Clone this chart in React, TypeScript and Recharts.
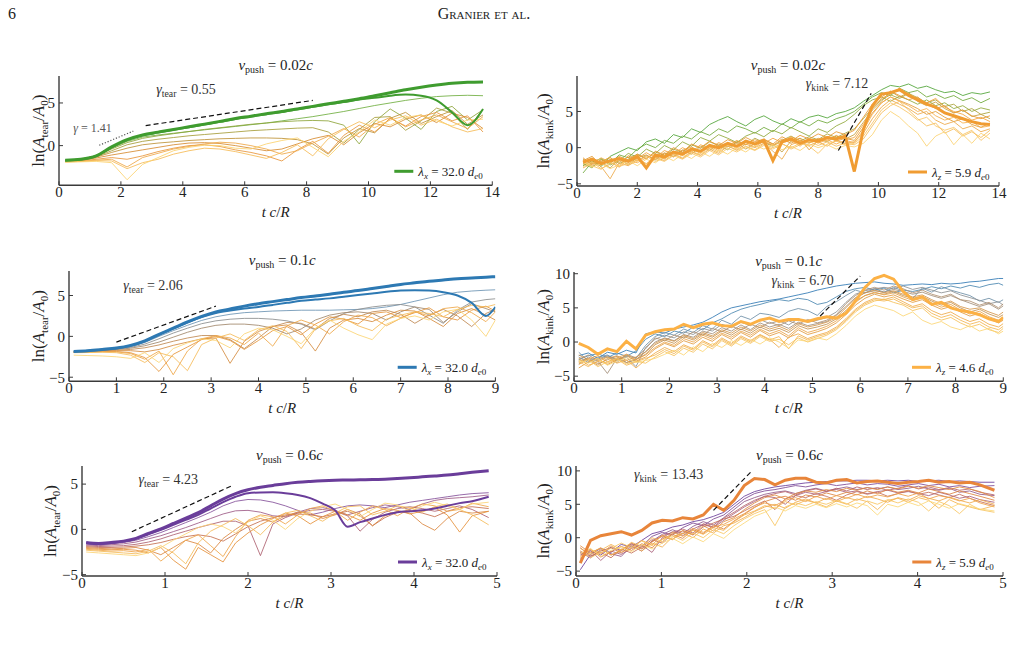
import { LineChart, Line, XAxis, YAxis, ReferenceLine } from "recharts";

const FONT = '"Liberation Serif", "DejaVu Serif", serif';
const INK = "#222";
const FRAME = "#3a3a3a";
const ML = 60;
const MR = 10;
const MT = 28;
const MB = 45;

// ---- v_push = 0.02c, tearing ----
const p1Time = [0.2, 0.7, 1.2, 1.7, 2.2, 2.7, 3.2, 3.7, 4.2, 4.7, 5.2, 5.7, 6.2, 6.7, 7.2, 7.7, 8.2, 8.7, 9.2, 9.7, 10.2, 10.7, 11.2, 11.7, 12.2, 12.7, 13.2, 13.7];
const p1Thick = [
  [-1.72, -1.6, -1.2, -0.15, 0.7, 1.25, 1.58, 1.9, 2.2, 2.52, 2.84, 3.17, 3.45, 3.74, 4.0, 4.3, 4.6, 4.9, 5.2, 5.5, 5.85, 6.2, 6.55, 6.85, 7.1, 7.3, 7.42, 7.46],
  [-1.74, -1.62, -1.22, -0.2, 0.65, 1.2, 1.53, 1.85, 2.15, 2.47, 2.79, 3.12, 3.4, 3.69, 3.95, 4.25, 4.55, 4.85, 5.1, 5.4, 5.6, 5.85, 5.98, 5.85, 5.3, 3.9, 2.4, 4.3],
];
const p1Thin = [
  [-1.75, -1.6, -1.2, -0.3, 0.5, 1.0, 1.25, 1.45, 1.65, 1.85, 2.05, 2.25, 2.45, 2.65, 2.9, 3.15, 3.4, 3.7, 4.0, 4.35, 4.7, 5.0, 5.3, 5.55, 5.75, 5.85, 5.9, 5.85],
  [-1.78, -1.62, -1.25, -0.4, 0.35, 0.85, 1.15, 1.4, 1.65, 1.9, 2.1, 2.3, 2.5, 2.65, 2.8, 2.9, 2.95, 2.9, 2.4, 0.2, 2.8, 4.3, 3.2, 1.9, 4.0, 4.6, 3.0, 4.2],
  [-1.8, -1.65, -1.3, -0.6, 0.1, 0.5, 0.75, 0.95, 1.15, 1.3, 1.45, 1.6, 1.75, 1.85, 1.95, 2.05, 2.1, 1.6, 0.3, 1.9, 3.3, 3.4, 1.8, 2.9, 4.4, 3.8, 1.9, 4.3],
  [-1.82, -1.7, -1.35, -0.8, -0.3, 0.1, 0.3, 0.45, 0.6, 0.7, 0.8, 0.85, 0.9, 0.9, 0.85, 0.7, 0.2, -1.0, 0.9, 2.0, 1.5, 3.2, 3.9, 2.6, 3.4, 4.1, 2.5, 3.6],
  [-1.85, -1.75, -1.45, -1.1, -0.8, -0.5, -0.2, 0.1, 0.3, 0.35, 0.25, 0.0, -0.3, -0.6, -0.4, 0.2, 0.8, 1.2, 0.1, 1.5, 2.6, 2.2, 3.1, 3.6, 2.7, 3.8, 3.3, 2.0],
  [-1.85, -1.8, -1.6, -1.4, -1.6, -1.2, -0.7, -0.3, 0.0, 0.1, -0.1, -0.5, -0.8, -1.2, -1.8, -0.5, 0.5, -0.9, 1.2, 2.4, 1.6, 3.2, 2.3, 3.4, 3.9, 2.9, 3.5, 1.6],
  [-1.9, -1.85, -1.7, -1.6, -2.5, -1.4, -0.9, -0.4, -0.1, 0.2, 0.4, 0.3, 0.0, -0.4, -1.0, -0.6, 0.3, 1.1, 2.0, 1.0, 2.5, 3.3, 2.2, 3.0, 3.6, 2.8, 2.0, 3.4],
  [-1.9, -1.85, -1.75, -1.8, -2.7, -2.0, -1.6, -1.0, -0.6, -0.3, -0.4, -0.7, -1.1, -1.5, -0.8, 0.1, -1.2, 0.8, 1.9, 2.8, 2.1, 3.0, 3.5, 2.4, 3.1, 2.2, 1.6, 2.0],
  [-1.95, -1.9, -1.85, -2.0, -4.0, -2.2, -1.4, -0.6, -0.2, 0.05, 0.0, -0.3, -0.4, 0.2, 0.6, 0.9, -0.2, -1.3, 0.5, 1.6, 3.0, 2.4, 3.3, 3.6, 2.9, 2.3, 3.0, 3.1],
];
const p1Colors = ["#6fae3f", "#8ea43a", "#a59c37", "#bd9135", "#d68a2f", "#e7953a", "#efa645", "#f5ba55", "#fbd26e"];
const p1Fit = [[2.8, 2.34], [8.2, 5.3]];
const p1FitEarly = [[1.3, 0.04], [2.4, 1.7]];

// ---- v_push = 0.02c, kink ----
const p2Time = [0.2, 0.5, 0.8, 1.1, 1.4, 1.7, 2.0, 2.3, 2.6, 2.9, 3.2, 3.5, 3.8, 4.1, 4.4, 4.7, 5.0, 5.3, 5.6, 5.9, 6.2, 6.5, 6.8, 7.1, 7.4, 7.7, 8.0, 8.3, 8.6, 8.9, 9.2, 9.5, 9.8, 10.1, 10.4, 10.7, 11.0, 11.3, 11.6, 11.9, 12.2, 12.5, 12.8, 13.1, 13.4, 13.7];
const p2Thick = [
  [-2.0, -1.6, -2.2, -1.8, -1.5, -1.9, -1.2, -2.8, -1.0, -1.3, -0.6, -0.9, -0.2, -0.5, 0.3, 0.0, 0.6, 0.2, 0.9, 0.5, 1.0, -1.8, 0.8, 1.2, 0.6, 1.1, 0.9, 1.4, 1.2, 1.6, -3.3, 2.5, 5.8, 7.4, 7.6, 8.0, 7.2, 6.6, 6.0, 5.6, 4.8, 4.4, 4.0, 3.6, 3.3, 3.2],
];
const p2Thin = [
  [-2.5, -1.8, -2.6, -1.2, -0.6, 0.0, -0.4, 0.8, 1.2, 0.6, 1.8, 1.4, 2.6, 2.1, 3.2, 3.8, 4.3, 3.6, 3.0, 3.9, 4.4, 3.7, 3.2, 4.0, 3.5, 4.2, 4.5, 4.1, 4.7, 5.0, 5.5, 6.4, 7.2, 8.0, 8.6, 8.4, 8.8, 8.2, 8.5, 8.0, 7.6, 7.8, 7.2, 7.6, 7.4, 7.7],
  [-3.5, -2.0, -1.5, -2.2, -1.0, -1.4, -0.2, 0.5, 0.0, 1.0, 0.6, 1.6, 1.2, 2.2, 1.7, 2.6, 2.1, 3.0, 2.6, 2.0, 2.8, 2.2, 3.3, 2.7, 3.6, 3.0, 3.8, 3.4, 4.0, 4.4, 5.0, 6.0, 7.0, 7.6, 7.2, 8.2, 7.6, 7.9, 7.0, 7.4, 6.8, 7.2, 6.5, 6.9, 6.2, 6.8],
  [-2.2, -2.8, -1.6, -2.4, -1.8, -0.8, -1.3, -0.2, -0.8, 0.3, -0.3, 0.8, 0.2, 1.4, 0.9, 1.8, 1.3, 0.7, 1.6, 2.1, 1.5, 2.4, 1.9, 2.8, 2.2, 1.6, 2.6, 2.1, 3.0, 3.6, 4.6, 5.8, 6.6, 7.0, 6.4, 7.1, 6.6, 6.0, 6.6, 5.8, 6.2, 5.4, 5.8, 5.0, 5.5, 5.2],
  [-2.0, -2.6, -1.9, -1.4, -2.2, -1.6, -0.9, -1.5, -0.6, -1.1, -0.2, -0.7, 0.4, -0.1, 0.8, 0.3, -0.3, 0.9, 0.4, 1.3, 0.7, 0.2, 1.0, 1.6, 0.9, 1.5, 1.1, 1.9, 1.4, 2.0, 2.6, 4.0, 5.5, 6.6, 7.3, 6.8, 7.5, 6.9, 6.2, 6.6, 5.7, 6.0, 5.0, 5.4, 4.6, 4.9],
  [-1.6, -2.2, -2.0, -2.8, -1.6, -2.3, -1.4, -1.0, -1.7, -0.8, -1.2, -0.3, -0.9, 0.2, -0.4, 0.5, 0.1, 0.7, -0.2, 0.6, 1.1, 0.5, -0.6, 0.9, 1.3, 0.7, 1.2, 0.8, 1.6, 1.2, 1.8, 3.5, 5.2, 6.4, 7.8, 7.0, 7.6, 6.4, 5.8, 6.3, 5.4, 4.8, 5.2, 4.3, 4.6, 4.0],
  [-1.8, -1.2, -2.4, -1.7, -2.0, -1.3, -1.8, -1.1, -1.6, -0.7, -1.3, -0.4, 0.1, -0.6, 0.4, -0.2, 0.7, 0.2, 1.0, 0.4, 0.8, 0.3, 1.2, 0.6, 1.3, -0.3, 1.0, 1.5, 0.9, 1.3, 1.0, 2.8, 4.8, 6.2, 7.0, 6.5, 6.0, 5.4, 4.6, 5.0, 4.2, 3.6, 4.0, 3.2, 2.8, 3.4],
  [-1.4, -2.4, -1.7, -2.1, -1.2, -1.8, -0.9, -1.6, -0.5, -1.0, 0.0, -0.6, 0.5, 0.0, 0.9, 0.3, 1.1, 0.6, 1.4, 0.8, 1.2, 0.5, 1.5, 0.9, 1.7, 1.2, 1.9, 1.4, 2.2, 1.8, 2.4, 4.2, 6.0, 7.0, 7.8, 7.2, 6.6, 7.0, 6.0, 5.4, 5.8, 4.8, 5.2, 4.4, 4.0, 4.4],
  [-2.1, -1.5, -2.0, -1.3, -2.6, -1.1, -1.5, -0.7, -1.4, -0.4, -0.9, 0.0, -0.6, 0.4, -0.1, 0.7, 0.2, 1.0, 0.4, 1.1, 0.6, 1.3, 0.7, 1.5, 1.0, 0.6, 1.3, 1.0, 1.7, 1.1, 1.4, 3.2, 5.4, 6.8, 7.4, 8.2, 7.4, 6.8, 6.2, 6.8, 5.6, 5.0, 4.6, 3.8, 4.2, 3.6],
  [-2.3, -1.9, -2.6, -4.3, -2.1, -2.5, -1.6, -2.2, -1.3, -1.8, -0.9, -1.5, -0.6, -1.1, -0.2, -0.8, 0.2, -0.3, 0.5, 0.0, 0.6, -0.5, -1.6, 0.4, 0.9, 0.3, 0.8, 0.2, 1.0, 0.6, 0.8, 2.0, 4.0, 5.6, 6.6, 6.0, 5.4, 4.6, 5.0, 3.8, 3.2, 3.6, 2.6, 3.0, 2.2, 2.6],
  [-2.8, -2.2, -1.4, -2.0, -2.7, -1.6, -2.1, -1.4, -0.9, -1.6, -0.6, -1.1, -0.2, -0.8, 0.2, -0.4, 0.5, -0.1, 0.7, 0.1, 0.9, 0.4, 0.7, 1.0, 0.2, 1.2, 0.6, 1.1, 0.5, 1.0, 0.7, 2.4, 4.6, 6.2, 7.0, 6.4, 5.8, 5.0, 5.4, 4.4, 3.8, 4.2, 3.4, 3.6, 2.8, 3.0],
  [-2.6, -2.0, -2.9, -2.3, -1.7, -2.4, -1.9, -1.2, -1.9, -1.4, -0.8, -1.4, -0.5, -1.0, 0.0, -0.6, 0.3, -0.4, 0.2, -0.3, 0.5, 0.0, 0.6, -0.2, 0.4, 0.9, 0.3, 0.8, 0.2, 0.6, 0.4, 1.2, 3.0, 4.8, 5.8, 6.4, 5.2, 4.0, 3.0, 3.4, 2.0, 2.6, 1.6, 2.2, 1.4, 2.4],
  [-1.9, -2.5, -3.0, -2.0, -2.6, -2.2, -1.7, -2.3, -1.5, -1.9, -1.1, -1.6, -0.8, -1.3, -0.4, -1.0, -0.1, -0.6, 0.1, -0.4, 0.3, -0.2, 0.5, 0.0, 0.6, 0.2, -0.8, 0.5, 0.9, 0.4, 0.6, 1.6, 3.4, 5.2, 6.2, 5.6, 4.8, 3.8, 4.2, 3.0, 2.4, 2.8, 1.8, 2.4, 1.0, 2.0],
  [-2.0, -2.7, -2.2, -2.9, -2.4, -1.8, -2.5, -1.6, -2.1, -1.2, -1.8, -0.9, -1.5, -0.6, -1.2, -0.3, -0.9, 0.0, -0.6, 0.3, -0.2, 0.4, -0.3, 0.2, -0.4, 0.5, 0.0, 0.4, -0.2, 0.3, 0.1, 0.6, 1.8, 3.8, 5.0, 4.2, 3.0, 2.0, 0.2, 1.6, 2.2, 0.4, 1.8, 0.6, 2.0, 1.2],
];
const p2Colors = ["#4fa336", "#6ea83a", "#8fa83a", "#aba23a", "#c5a03c", "#e09a35", "#e8962f", "#f2a23a", "#eca846", "#f6ae4a", "#f4bc58", "#f9c463", "#fbd271"];
const p2Fit = [[8.67, -0.4], [9.76, 7.5]];

// ---- v_push = 0.1c, tearing ----
const p3Time = [0.1, 0.4, 0.7, 1.0, 1.3, 1.6, 1.9, 2.2, 2.5, 2.8, 3.1, 3.4, 3.7, 4.0, 4.3, 4.6, 4.9, 5.2, 5.5, 5.8, 6.1, 6.4, 6.7, 7.0, 7.3, 7.6, 7.9, 8.2, 8.5, 8.8, 9.0];
const p3Thick = [
  [-1.84, -1.75, -1.6, -1.43, -1.1, -0.55, 0.25, 1.0, 1.76, 2.45, 3.0, 3.35, 3.7, 4.0, 4.25, 4.5, 4.75, 4.95, 5.15, 5.4, 5.6, 5.85, 6.1, 6.35, 6.55, 6.75, 6.9, 7.05, 7.15, 7.25, 7.3],
  [-1.86, -1.77, -1.62, -1.46, -1.15, -0.6, 0.2, 0.95, 1.7, 2.35, 2.85, 3.15, 3.4, 3.6, 3.85, 4.1, 4.35, 4.5, 4.65, 4.85, 5.05, 5.25, 5.45, 5.6, 5.65, 5.6, 5.4, 5.0, 4.1, 2.5, 3.6],
];
const p3Thin = [
  [-1.88, -1.8, -1.66, -1.5, -1.25, -0.75, 0.0, 0.7, 1.35, 1.95, 2.4, 2.7, 2.9, 3.0, 3.1, 3.15, 3.2, 3.2, 3.2, 3.25, 3.3, 3.4, 3.6, 3.9, 4.3, 4.7, 5.1, 5.4, 5.55, 5.65, 5.7],
  [-1.9, -1.82, -1.7, -1.55, -1.35, -0.95, -0.3, 0.4, 1.0, 1.55, 1.9, 2.1, 2.2, 2.2, 2.1, 1.9, 1.5, 0.8, 1.9, 2.8, 3.3, 3.6, 3.8, 3.9, 3.6, 2.6, 1.6, 3.2, 4.2, 4.5, 4.6],
  [-1.9, -1.85, -1.72, -1.6, -1.45, -1.15, -0.7, -0.1, 0.5, 1.0, 1.35, 1.5, 1.5, 1.35, 1.0, 0.3, 0.9, 2.0, 2.6, 2.9, 3.0, 2.8, 2.0, 3.0, 3.6, 3.3, 1.7, 3.0, 4.0, 3.4, 3.0],
  [-1.9, -1.86, -1.76, -1.68, -1.6, -1.4, -1.05, -0.6, -0.2, 0.1, 0.1, -0.4, -1.5, -0.2, 1.2, 1.7, 1.6, 0.9, 2.2, 2.7, 2.4, 3.0, 3.2, 2.7, 1.6, 2.6, 3.3, 2.5, 1.2, 2.8, 3.3],
  [-1.92, -1.88, -1.8, -1.75, -1.75, -1.9, -1.6, -1.1, -0.7, -0.3, -0.2, -3.3, -0.6, 0.6, 1.2, 1.4, 0.5, -1.8, 1.0, 2.0, 2.2, 1.8, 2.6, 3.2, 3.1, 2.2, 1.2, 2.8, 3.4, 2.6, 2.0],
  [-1.95, -1.9, -1.85, -1.85, -2.0, -2.6, -4.3, -2.2, -1.3, -0.4, 0.0, -0.5, -1.6, -0.5, 0.7, 1.2, 0.2, 1.5, 2.4, 2.1, 1.5, 2.8, 3.0, 2.3, 2.9, 3.5, 2.4, 2.0, 3.2, 3.7, 3.1],
  [-1.95, -1.92, -1.88, -1.9, -2.1, -2.8, -1.8, -4.7, -1.8, -0.3, 0.1, -0.2, -1.0, 0.4, -1.2, 1.3, 2.0, 1.4, 0.3, 1.8, 2.6, 2.3, 1.3, 2.2, 3.0, 2.5, 3.4, 3.6, 2.9, 1.8, 3.0],
  [-2.0, -1.98, -1.95, -2.0, -2.3, -3.2, -2.0, -2.5, -4.2, -1.0, -0.2, 0.3, -0.5, 0.8, 1.3, 0.6, -1.5, 0.9, 1.9, 2.2, 1.3, 0.7, 2.1, 2.6, 3.0, 2.8, 2.4, 3.3, 3.8, 3.6, 3.9],
  [-2.3, -2.35, -2.4, -2.5, -2.7, -2.0, -3.2, -1.5, -0.8, -0.3, -0.5, -1.4, 0.3, 1.0, 0.8, 0.0, -0.9, 1.0, 2.0, 1.0, 0.2, -0.4, 1.5, 2.2, 2.5, 2.0, 3.0, 3.3, 2.0, 0.0, 2.0],
];
const p3Colors = ["#6a92b2", "#8a8d8c", "#a1866a", "#bf8850", "#d58b3e", "#e5953a", "#eea747", "#f5bb57", "#fbd472"];
const p3Fit = [[1.0, -0.7], [3.1, 3.7]];

// ---- v_push = 0.1c, kink ----
const p4Time = [0.1, 0.3, 0.5, 0.7, 0.9, 1.1, 1.3, 1.5, 1.7, 1.9, 2.1, 2.3, 2.5, 2.7, 2.9, 3.1, 3.3, 3.5, 3.7, 3.9, 4.1, 4.3, 4.5, 4.7, 4.9, 5.1, 5.3, 5.5, 5.7, 5.9, 6.1, 6.3, 6.5, 6.7, 6.9, 7.1, 7.3, 7.5, 7.7, 7.9, 8.1, 8.3, 8.5, 8.7, 8.9, 9.0];
const p4Thick = [
  [-0.2, -0.8, -1.8, -1.0, -1.4, 0.1, -1.0, 1.0, 1.5, 1.8, 1.9, 2.6, 2.1, 2.6, 2.8, 2.4, 2.3, 3.0, 2.6, 3.2, 3.5, 3.0, 3.3, 3.3, 3.0, 3.4, 3.7, 3.5, 4.2, 6.0, 8.0, 9.3, 9.75, 9.2, 7.4, 6.2, 6.6, 5.5, 5.8, 5.0, 4.6, 4.4, 4.0, 3.4, 3.0, 3.6],
];
const p4Thin = [
  [-2.0, -1.6, -2.4, -1.5, -1.8, -1.2, -1.6, 1.2, 1.5, 1.3, 1.9, 2.2, 2.5, 2.9, 3.6, 4.4, 5.0, 5.3, 5.6, 5.9, 6.1, 6.3, 6.6, 6.9, 7.2, 7.6, 7.9, 8.2, 8.4, 8.6, 8.7, 8.8, 8.6, 8.5, 8.3, 8.4, 8.5, 8.4, 8.6, 8.5, 8.6, 8.8, 8.9, 9.1, 9.3, 9.3],
  [-2.6, -2.0, -1.7, -2.3, -1.6, -2.1, -1.3, 0.4, 1.2, 0.8, 1.6, 1.3, 2.2, 1.8, 2.8, 3.4, 4.2, 4.8, 5.2, 5.5, 5.9, 6.2, 6.0, 6.4, 6.2, 5.5, 5.8, 6.6, 7.4, 7.8, 8.0, 7.6, 7.9, 7.2, 7.6, 7.4, 7.7, 8.1, 7.8, 8.2, 7.9, 8.3, 8.0, 8.4, 8.6, 8.3],
  [-1.5, -2.8, -2.2, -1.9, -2.6, -2.0, -2.4, -0.5, 0.8, 1.4, 1.0, 1.9, 1.4, 2.4, 1.9, 3.2, 2.6, 3.8, 3.3, 4.2, 4.0, 3.6, 4.5, 4.9, 4.6, 3.9, 5.2, 5.9, 6.8, 7.6, 7.2, 7.8, 7.3, 8.0, 7.5, 6.4, 7.9, 7.3, 8.1, 7.6, 7.2, 6.8, 6.0, 6.4, 5.8, 6.2],
  [-2.2, -3.0, -2.5, -2.0, -2.7, -2.2, -3.6, -0.8, 0.4, 1.0, 0.6, 1.5, 1.1, 2.0, 1.6, 2.6, 2.1, 2.9, 2.4, 3.3, 2.7, 3.1, 2.5, 3.4, 2.9, 3.2, 3.6, 4.4, 5.8, 7.0, 7.5, 7.8, 8.0, 7.8, 8.2, 7.7, 8.0, 7.6, 7.2, 7.5, 6.9, 6.5, 6.1, 5.6, 5.9, 5.4],
  [-3.2, -2.2, -2.8, -4.6, -2.4, -3.0, -2.6, -1.4, 0.0, 0.6, 0.2, 1.1, 0.7, 1.6, 1.2, 2.1, 1.6, 2.5, 1.8, 2.8, 2.2, 2.6, 2.0, 2.9, 2.4, 2.7, 3.0, 3.9, 5.2, 6.5, 7.2, 7.5, 7.3, 7.7, 7.4, 7.0, 7.3, 6.8, 6.4, 6.8, 6.2, 5.7, 5.2, 5.6, 4.8, 5.3],
  [-2.5, -1.9, -2.7, -2.1, -3.0, -1.8, -2.3, -1.0, 0.6, 0.2, 1.0, 0.6, 1.5, 1.0, 2.0, 1.5, 2.3, 1.8, 2.6, 2.1, 2.9, 2.4, 3.1, 2.6, 3.3, 2.8, 3.2, 4.0, 5.6, 6.8, 7.6, 8.0, 7.6, 8.2, 7.8, 7.2, 7.6, 7.0, 6.6, 7.0, 6.2, 6.0, 5.4, 5.8, 5.0, 5.6],
  [-2.8, -2.4, -3.2, -2.6, -2.1, -3.0, -2.5, -1.8, -0.4, 0.3, -0.2, 0.8, 0.3, 1.2, 0.7, 1.6, 1.0, 1.9, 1.3, 2.2, 1.6, 2.0, 1.4, 2.4, 1.9, 2.2, 2.6, 3.4, 4.6, 6.0, 6.8, 7.2, 7.0, 7.4, 6.8, 6.4, 6.7, 6.0, 5.4, 5.8, 5.0, 4.4, 4.8, 4.1, 3.6, 4.0],
  [-1.9, -2.6, -3.4, -2.4, -2.0, -2.7, -2.2, -1.5, -0.2, 0.5, 0.1, 1.0, 0.5, 1.4, 0.9, 1.8, 1.3, 2.2, 1.6, 2.5, 1.9, 2.3, 1.7, 2.7, 2.2, 2.5, 2.9, 3.6, 5.0, 6.4, 7.2, 7.6, 7.2, 7.5, 7.0, 6.6, 6.9, 6.2, 5.6, 6.0, 5.2, 4.8, 5.0, 4.4, 3.9, 4.4],
  [-3.8, -2.9, -2.4, -3.3, -2.6, -2.0, -2.8, -2.2, -1.0, -0.2, -0.7, 0.2, -0.3, 0.7, 0.1, 1.1, 0.4, 1.4, 0.7, 1.7, 0.9, 1.4, 0.6, 1.8, 1.1, 1.5, 2.0, 2.8, 4.0, 5.4, 6.4, 7.0, 6.6, 6.9, 6.3, 5.8, 6.2, 5.4, 4.8, 5.2, 4.4, 3.8, 4.2, 3.4, 2.8, 3.2],
  [-3.3, -2.5, -2.0, -2.9, -2.3, -1.8, -2.6, -1.9, -0.8, 0.0, -0.5, 0.5, 0.0, 1.0, 0.4, 1.3, 0.7, 1.6, 1.0, 1.9, 1.2, 1.7, 0.9, 2.1, 1.4, 1.8, 2.3, 3.1, 4.3, 5.8, 6.8, 7.3, 6.9, 7.2, 6.6, 6.1, 6.5, 5.7, 5.1, 5.5, 4.7, 4.1, 4.5, 3.7, 3.2, 3.6],
  [-2.4, -3.4, -2.9, -2.2, -3.1, -2.6, -3.8, -2.6, -1.6, -0.8, -1.4, -0.4, -1.0, 0.2, -0.5, 0.6, -0.2, 0.9, 0.2, 1.1, 0.4, -0.8, 0.7, 1.2, 0.5, 1.0, 1.4, 2.2, 3.4, 4.8, 5.8, 6.4, 6.2, 6.6, 5.9, 5.2, 5.6, 4.6, 4.0, 4.4, 3.6, 3.0, 3.4, 2.6, 2.2, 2.7],
  [-2.9, -3.6, -2.7, -3.1, -2.5, -3.4, -2.9, -2.4, -1.9, -1.1, -1.7, -0.6, -1.2, 0.0, -0.7, 0.4, -0.4, 0.7, 0.0, 1.0, 0.3, 0.8, -1.0, 0.9, 0.3, 0.8, 1.2, 2.0, 3.2, 4.6, 5.6, 6.2, 6.0, 6.3, 5.6, 5.0, 5.3, 4.2, 3.6, 4.0, 3.2, 2.6, 3.0, 2.2, 1.8, 2.3],
  [-3.0, -2.6, -3.6, -2.9, -2.4, -3.2, -2.8, -3.1, -2.2, -1.4, -2.0, -0.9, -1.5, -0.3, -1.0, 0.2, -0.6, 0.5, -0.2, 0.8, 0.1, 0.4, -0.4, 0.6, 0.0, 0.5, 1.0, 1.8, 3.0, 4.4, 5.4, 6.0, 6.3, 5.8, 5.4, 4.6, 5.0, 3.8, 3.2, 3.6, 2.8, 2.2, 2.6, 1.8, 1.4, 2.0],
  [-2.7, -3.1, -2.4, -3.4, -2.8, -2.3, -3.0, -2.7, -2.4, -1.8, -1.2, -1.9, -0.7, -1.4, -0.2, -0.8, 0.2, -0.5, 0.4, -0.3, 0.6, 0.0, -0.9, 0.3, 0.1, 0.6, 0.3, 1.2, 2.4, 3.8, 4.8, 5.4, 5.0, 4.6, 3.8, 4.4, 3.2, 2.6, 3.0, 2.2, 1.8, 2.4, 1.6, 2.0, 1.2, 1.6],
];
const p4Colors = ["#2f79b4", "#4a86b0", "#6e8fa6", "#8c9092", "#a28e78", "#b09070", "#c3914f", "#d4964a", "#e09a3e", "#eba347", "#eeaa48", "#f3b652", "#f6c058", "#fcd674"];
const p4Fit = [[5.16, 3.8], [6.0, 9.65]];

// ---- v_push = 0.6c, tearing ----
const p5Time = [0.05, 0.2, 0.35, 0.5, 0.65, 0.8, 0.95, 1.1, 1.25, 1.4, 1.55, 1.7, 1.85, 2.0, 2.15, 2.3, 2.45, 2.6, 2.75, 2.9, 3.05, 3.2, 3.35, 3.5, 3.65, 3.8, 3.95, 4.1, 4.25, 4.4, 4.55, 4.7, 4.9];
const p5Thick = [
  [-1.45, -1.55, -1.45, -1.3, -1.0, -0.45, 0.05, 0.65, 1.25, 1.85, 2.6, 3.35, 3.95, 4.37, 4.65, 4.85, 5.05, 5.2, 5.3, 5.38, 5.43, 5.45, 5.48, 5.5, 5.55, 5.62, 5.7, 5.8, 5.9, 6.0, 6.15, 6.3, 6.48],
  [-1.5, -1.6, -1.5, -1.35, -1.05, -0.55, -0.05, 0.5, 1.05, 1.6, 2.3, 3.0, 3.6, 4.0, 4.08, 4.1, 4.0, 3.8, 3.45, 2.85, 2.1, 0.3, 0.8, 1.2, 1.6, 1.9, 2.0, 2.1, 2.3, 2.6, 2.9, 3.1, 3.6],
];
const p5Thin = [
  [-1.6, -1.7, -1.6, -1.45, -1.2, -0.8, -0.35, 0.2, 0.75, 1.3, 1.9, 2.6, 3.1, 3.3, 3.25, 3.0, 2.6, 2.1, 1.6, 1.9, 2.3, 2.6, 2.7, 2.6, 2.4, 2.7, 3.0, 3.2, 3.4, 3.6, 3.8, 3.95, 4.05],
  [-1.7, -1.8, -1.7, -1.6, -1.4, -1.05, -0.7, -0.25, 0.2, 0.7, 1.2, 1.7, 2.05, 2.1, 1.9, 1.5, 1.4, 1.9, 2.3, 2.4, 2.1, 1.6, 2.0, 2.4, 2.7, 2.5, 2.2, 2.8, 3.2, 3.4, 3.5, 3.6, 3.8],
  [-1.8, -1.9, -1.85, -1.8, -1.65, -1.4, -1.05, -0.6, -0.2, 0.2, 0.55, 0.9, 0.9, 0.4, -2.9, 0.6, 1.3, 1.8, 2.1, 2.2, 2.0, 1.5, -0.2, 1.1, 1.9, 2.3, 2.5, 2.3, 2.0, 2.3, 2.6, 2.2, 1.3],
  [-1.9, -2.0, -2.0, -1.95, -1.85, -1.7, -1.45, -1.1, -0.8, -0.6, -0.8, -1.3, -0.5, 0.3, 0.9, 1.3, 1.6, 1.7, 1.6, 1.4, 1.7, 2.0, 1.5, 0.4, 1.3, 1.9, 2.1, 1.8, 1.4, 2.0, 2.4, 2.5, 2.3],
  [-2.0, -2.1, -2.15, -2.1, -2.0, -2.3, -2.8, -2.0, -1.2, -1.6, -2.6, -1.0, 0.0, 0.9, 1.2, 0.8, 1.5, 1.9, 1.8, 1.2, 1.6, 2.2, 1.7, 0.4, 1.5, 2.0, 1.8, 0.6, -0.1, 1.2, 2.0, 1.8, 2.0],
  [-2.1, -2.2, -2.25, -2.2, -2.3, -2.6, -2.0, -3.4, -4.4, -2.0, -2.8, -3.6, -1.5, -0.4, 0.5, 1.2, 1.8, 1.5, 0.6, 1.4, 2.0, 1.6, 1.0, 1.8, 2.3, 2.1, 1.7, 2.0, 2.4, 1.6, -0.3, 1.5, 2.0],
  [-2.2, -2.3, -2.4, -2.35, -2.5, -2.2, -3.5, -2.4, -1.2, -0.6, -1.8, -3.0, -0.8, 1.0, 1.6, 1.4, 0.6, 1.6, 2.3, 2.6, 2.0, 1.0, 1.9, 2.6, 2.2, 1.5, 2.3, 2.8, 2.6, 2.0, 2.2, 2.9, 2.5],
  [-2.3, -2.4, -2.5, -2.6, -2.7, -2.4, -1.8, -2.6, -3.8, -1.5, -0.2, 0.5, 1.2, 0.4, -0.6, 0.8, 1.8, 2.1, 1.5, 0.9, 1.8, 2.5, 2.6, 1.6, 2.0, 2.6, 2.4, 1.9, 2.5, 2.8, 2.2, 1.6, 0.5],
  [-2.5, -2.6, -2.7, -2.8, -2.9, -2.6, -2.0, -1.2, -0.5, 0.2, 0.6, 0.3, -0.4, 0.8, 1.5, 1.0, 0.0, 1.2, 2.0, 2.5, 2.8, 2.2, 1.4, 2.2, 2.9, 2.7, 2.0, 2.6, 3.0, 2.6, 2.2, 2.8, 3.0],
];
const p5Colors = ["#85519a", "#9d5a86", "#ae6070", "#c5704f", "#db8740", "#e5903a", "#efa548", "#f5bb58", "#fbd474"];
const p5Fit = [[0.6, -0.26], [1.8, 4.8]];

// ---- v_push = 0.6c, kink ----
const p6Time = [0.05, 0.17, 0.29, 0.41, 0.53, 0.65, 0.77, 0.89, 1.01, 1.13, 1.25, 1.37, 1.49, 1.61, 1.73, 1.85, 1.97, 2.09, 2.21, 2.33, 2.45, 2.57, 2.69, 2.81, 2.93, 3.05, 3.17, 3.29, 3.41, 3.53, 3.65, 3.77, 3.89, 4.01, 4.13, 4.25, 4.37, 4.49, 4.61, 4.73, 4.9];
const p6Thick = [
  [-3.8, -0.4, 0.3, 0.6, 0.9, 0.4, 1.1, 2.2, 2.6, 2.5, 3.0, 2.8, 3.4, 5.0, 4.1, 5.6, 7.8, 8.85, 8.7, 7.9, 8.6, 8.9, 8.9, 8.3, 8.2, 8.6, 8.7, 8.2, 8.4, 8.5, 8.3, 8.1, 8.3, 8.4, 8.6, 8.3, 8.4, 8.2, 8.3, 7.9, 7.1],
];
const p6Thin = [
  [-4.8, -2.5, -1.6, -2.2, -1.0, -1.4, -0.4, 0.6, 1.0, 1.6, 1.9, 2.4, 2.7, 3.2, 3.8, 5.0, 6.2, 6.9, 7.3, 7.6, 7.8, 8.0, 8.2, 8.3, 8.4, 8.5, 8.5, 8.6, 8.6, 8.5, 8.6, 8.5, 8.6, 8.4, 8.5, 8.6, 8.4, 8.5, 8.4, 8.3, 8.3],
  [-3.2, -2.0, -2.6, -1.4, -1.9, -0.9, -1.3, 0.2, 0.8, 0.4, 1.5, 2.2, 1.8, 2.8, 3.4, 4.6, 5.8, 6.6, 7.0, 7.2, 7.5, 7.8, 7.6, 7.9, 8.1, 7.8, 8.0, 8.2, 7.9, 8.1, 8.0, 7.7, 7.9, 8.1, 7.8, 8.0, 7.6, 7.8, 7.5, 7.7, 7.8],
  [-2.2, -3.0, -1.8, -2.4, -2.8, -1.2, -2.0, -0.5, 0.5, 1.2, 0.6, 1.7, 2.4, 1.9, 3.0, 4.2, 5.4, 6.0, 6.5, 6.8, 7.0, 6.6, 7.1, 7.4, 7.0, 7.3, 7.6, 7.2, 7.5, 7.3, 7.6, 7.2, 7.4, 7.7, 7.3, 7.1, 7.4, 6.8, 7.0, 6.5, 6.3],
  [-2.6, -1.9, -3.4, -2.0, -2.5, -1.6, -1.1, -2.2, 0.0, 0.9, 0.3, 1.3, 2.0, 1.5, 2.6, 3.6, 4.6, 5.4, 6.2, 6.0, 5.0, 6.3, 6.8, 6.5, 6.9, 7.2, 6.8, 7.0, 6.6, 6.9, 7.1, 6.7, 6.9, 6.6, 6.3, 6.8, 6.4, 5.9, 6.2, 5.7, 5.3],
  [-2.0, -2.8, -2.0, -1.5, -2.3, -1.0, -1.6, -0.6, 0.3, 0.8, 1.3, 0.7, 2.1, 1.6, 2.9, 3.8, 4.8, 5.6, 6.2, 6.6, 6.9, 6.4, 7.0, 7.3, 6.9, 7.4, 7.0, 7.6, 7.2, 7.5, 7.1, 7.4, 7.8, 7.3, 7.6, 7.2, 7.5, 7.1, 7.3, 6.8, 6.4],
  [-1.5, -2.7, -2.2, -3.0, -1.7, -2.3, -1.4, -0.3, -0.8, 0.6, 1.0, 0.4, 1.6, 2.2, 2.8, 3.2, 4.0, 4.8, 5.5, 4.2, 5.8, 6.3, 6.0, 6.6, 6.2, 5.6, 6.4, 6.9, 6.5, 6.8, 6.2, 6.6, 7.0, 6.5, 6.8, 6.4, 6.0, 6.5, 5.9, 5.4, 4.8],
  [-2.4, -1.7, -2.9, -2.1, -1.3, -1.9, -0.9, -1.5, -0.2, 0.5, -0.1, 1.2, 0.6, 1.9, 1.3, 2.5, 3.5, 4.5, 5.4, 5.9, 6.2, 5.6, 6.4, 6.1, 6.7, 6.3, 6.8, 6.4, 7.0, 6.6, 7.2, 6.8, 7.1, 6.7, 7.3, 6.9, 6.5, 7.0, 6.6, 6.2, 5.6],
  [-1.2, -2.3, -1.5, -2.6, -2.0, -0.8, -1.7, -0.6, 0.2, -0.3, 1.1, 0.5, 1.8, 1.0, 2.4, 3.0, 4.2, 5.2, 6.0, 6.4, 5.8, 6.6, 7.0, 6.8, 7.2, 6.9, 7.4, 7.1, 7.5, 7.2, 7.6, 7.3, 7.7, 7.4, 7.8, 7.5, 7.2, 7.6, 7.3, 6.9, 6.0],
  [-2.8, -1.8, -2.4, -1.2, -2.2, -1.6, -0.4, -1.1, 0.4, -0.2, 0.6, 1.4, 0.8, 1.6, 2.0, 2.8, 3.6, 4.6, 5.2, 4.8, 5.6, 6.0, 5.4, 6.2, 5.7, 6.3, 5.9, 6.5, 6.0, 6.4, 6.1, 6.6, 6.2, 6.7, 5.8, 6.3, 6.0, 5.5, 5.9, 5.2, 4.6],
  [-3.0, -2.2, -1.6, -2.6, -1.8, -1.2, -2.0, -0.8, -1.4, 0.1, 0.7, 0.0, 1.3, 0.7, 1.8, 2.2, 3.0, 3.9, 4.6, 5.0, 4.4, 5.3, 5.8, 5.2, 5.9, 5.4, 6.0, 5.6, 6.2, 5.8, 5.3, 6.0, 5.6, 6.3, 5.9, 5.5, 6.1, 5.6, 5.2, 5.7, 5.0],
  [-1.6, -2.5, -1.9, -1.0, -1.8, -0.7, -1.3, 0.0, -0.6, 0.8, 0.2, 1.1, 0.5, 1.5, 1.1, 2.4, 3.4, 4.0, 4.8, 4.4, 5.4, 4.9, 5.6, 5.2, 4.6, 5.5, 5.0, 5.8, 5.4, 4.2, 5.6, 5.9, 5.3, 6.0, 5.6, 4.4, 5.7, 5.0, 4.6, 4.2, 4.8],
  [-2.0, -3.0, -2.2, -1.6, -0.8, -1.5, -0.5, -1.2, -0.3, 0.3, -0.4, 0.7, 0.0, 1.2, 0.6, 1.8, 2.8, 3.6, 4.2, 1.8, 4.6, 5.2, 4.8, 5.4, 5.0, 5.6, 5.1, 4.4, 5.5, 5.0, 5.7, 5.2, 5.8, 5.3, 4.0, 5.4, 4.8, 3.6, 5.0, 4.2, 3.8],
  [-2.4, -1.6, -2.8, -1.9, -1.4, -2.1, -1.0, -1.7, -0.8, -0.1, -0.9, 0.1, -0.6, 0.6, -0.1, 1.2, 2.2, 3.2, 3.8, 4.6, 4.0, 4.8, 4.4, 5.0, 4.5, 5.1, 4.6, 5.2, 4.8, 3.4, 5.0, 4.6, 5.3, 4.8, 5.5, 5.0, 4.4, 5.1, 4.7, 4.3, 4.0],
];
const p6Colors = ["#6a3d9a", "#7f4a94", "#935a8a", "#a9607a", "#b8656a", "#c46e58", "#de8440", "#e28c3e", "#eea048", "#f0aa4a", "#f4b450", "#f8c660", "#fcd878"];
const p6Fit = [[1.61, 4.1], [2.06, 10.0]];

type Note = { dx: number; dy: number; sub: string; value: string; small?: boolean };
type Fit = { seg: number[][]; dash: string; color: string };

interface PanelProps {
  left: number;
  top: number;
  width: number;
  height: number;
  time: number[];
  thin: number[][];
  thinColors: string[];
  thick: number[][];
  thickColor: string;
  xMax: number;
  xTicks: number[];
  yDomain: [number, number];
  yTicks: number[];
  speed: string;
  kind: string;
  legendSub: string;
  legendValue: string;
  legendOffset: number;
  yLabelGap: number;
  fits: Fit[];
  notes: Note[];
}

const fmt = (v: number) => (v < 0 ? `\u2212${-v}` : `${v}`);
const NB = "\u00a0";

const Panel = (p: PanelProps) => {
  const W = p.width + ML + MR;
  const H = p.height + MT + MB;
  const rows = p.time.map((t, i) => {
    const row: Record<string, number> = { t };
    p.thin.forEach((s, k) => (row[`n${k}`] = s[i]));
    p.thick.forEach((s, k) => (row[`m${k}`] = s[i]));
    return row;
  });
  const axisLine = { stroke: FRAME, strokeWidth: 1.4 };
  const tickLine = { stroke: FRAME, strokeWidth: 1 };
  const tickStyle = { fill: INK, fontSize: 15, fontFamily: FONT };
  const lx = ML + p.width - p.legendOffset;
  const ly = MT + p.height - 14;

  return (
    <div style={{ position: "absolute", left: p.left - ML, top: p.top - MT, width: W, height: H }}>
      <LineChart width={W} height={H} data={rows} margin={{ top: MT, right: MR, left: 0, bottom: 0 }}>
        <XAxis dataKey="t" type="number" domain={[0, p.xMax]} ticks={p.xTicks} interval={0} allowDataOverflow
          height={MB} tickSize={-4} tickMargin={5} axisLine={axisLine} tickLine={tickLine} tick={tickStyle} />
        <XAxis xAxisId="top" orientation="top" dataKey="t" type="number" domain={[0, p.xMax]} ticks={p.xTicks}
          interval={0} allowDataOverflow height={0} tick={false} tickSize={-4} axisLine={axisLine} tickLine={tickLine} />
        <YAxis type="number" domain={p.yDomain} ticks={p.yTicks} interval={0} allowDataOverflow width={ML}
          tickSize={-4} tickMargin={8} axisLine={axisLine} tickLine={tickLine} tick={tickStyle} tickFormatter={fmt} />
        <YAxis yAxisId="r" orientation="right" type="number" domain={p.yDomain} ticks={p.yTicks} interval={0}
          allowDataOverflow width={0} tick={false} tickSize={-4} axisLine={axisLine} tickLine={tickLine} />
        {p.thin.map((_, k) => (
          <Line key={`n${k}`} dataKey={`n${k}`} type="linear" stroke={p.thinColors[k]} strokeWidth={1}
            strokeOpacity={0.85} dot={false} activeDot={false} isAnimationActive={false} />
        ))}
        {p.thick.map((_, k) => (
          <Line key={`m${k}`} dataKey={`m${k}`} type={p.kind === "tear" ? "monotone" : "linear"}
            stroke={p.thickColor} strokeWidth={k === 0 ? 3 : 2} dot={false} activeDot={false}
            isAnimationActive={false} />
        ))}
        {p.fits.map((f, k) => (
          <ReferenceLine key={`f${k}`} ifOverflow="visible"
            segment={[{ x: f.seg[0][0], y: f.seg[0][1] }, { x: f.seg[1][0], y: f.seg[1][1] }]}
            stroke={f.color} strokeWidth={1.2} strokeDasharray={f.dash} />
        ))}
      </LineChart>

      <svg width={W} height={H} fontFamily={FONT}
        style={{ position: "absolute", left: 0, top: 0, overflow: "visible", pointerEvents: "none" }}>
        {/* panel title */}
        <text x={ML + p.width / 2} y={MT - 6.5} textAnchor="middle" fontSize={15} fill={INK}>
          <tspan fontStyle="italic">v</tspan>
          <tspan fontSize={10} dy={3}>push</tspan>
          <tspan dy={-3}>{`${NB}=${NB}${p.speed}`}</tspan>
          <tspan fontStyle="italic">c</tspan>
        </text>
        {/* x label */}
        <text x={ML + p.width / 2} y={MT + p.height + 31.5} textAnchor="middle" fontSize={15} fill={INK}>
          <tspan fontStyle="italic">t</tspan>
          <tspan>{NB}</tspan>
          <tspan fontStyle="italic">c</tspan>
          <tspan>/</tspan>
          <tspan fontStyle="italic">R</tspan>
        </text>
        {/* y label */}
        <text transform={`translate(${ML - p.yLabelGap + 5.5},${MT + p.height / 2}) rotate(-90)`}
          textAnchor="middle" fontSize={17} fill={INK}>
          <tspan>ln(</tspan>
          <tspan fontStyle="italic">A</tspan>
          <tspan fontSize={11} dy={4}>{p.kind}</tspan>
          <tspan dy={-4}>/</tspan>
          <tspan fontStyle="italic">A</tspan>
          <tspan fontSize={11} dy={4}>0</tspan>
          <tspan dy={-4}>)</tspan>
        </text>
        {/* growth rate notes */}
        {p.notes.map((n, k) => {
          const fs = n.small ? 12 : 14;
          return (
            <text key={k} x={ML + n.dx} y={MT + n.dy + 4.5} textAnchor="middle" fontSize={fs}
              fill={n.small ? "#555" : "#333"}>
              <tspan fontStyle="italic">{"\u03b3"}</tspan>
              {n.sub ? <tspan fontSize={fs * 0.7} dy={3}>{n.sub}</tspan> : null}
              <tspan dy={n.sub ? -3 : 0}>{`${NB}=${NB}${n.value}`}</tspan>
            </text>
          );
        })}
        {/* legend */}
        <line x1={lx} x2={lx + 19} y1={ly} y2={ly} stroke={p.thickColor} strokeWidth={3} />
        <text x={lx + 24} y={ly + 4.5} fontSize={13} fill={INK}>
          <tspan fontStyle="italic">{"\u03bb"}</tspan>
          <tspan fontStyle="italic" fontSize={9} dy={3}>{p.legendSub}</tspan>
          <tspan dy={-3}>{`${NB}=${NB}${p.legendValue}${NB}`}</tspan>
          <tspan fontStyle="italic">d</tspan>
          <tspan fontStyle="italic" fontSize={9} dy={3}>e</tspan>
          <tspan fontSize={9}>0</tspan>
        </text>
      </svg>
    </div>
  );
};

const dashed = (seg: number[][]): Fit => ({ seg, dash: "5 3", color: "#111" });

export default function App() {
  return (
    <div style={{ position: "absolute", left: 0, top: 0, width: 1012, height: 646, background: "#fff", overflow: "hidden" }}>
      <svg width={1012} height={40} fontFamily={FONT} style={{ position: "absolute", left: 0, top: 0 }}>
        <text x={8} y={19} fontSize={16} fill={INK}>6</text>
        <text x={484} y={19} fontSize={16} fill={INK} textAnchor="middle" style={{ fontVariant: "small-caps" }}>
          Granier et al.
        </text>
      </svg>

      <Panel left={58.7} top={75.7} width={433.3} height={109.3} time={p1Time} thin={p1Thin} thinColors={p1Colors}
        thick={p1Thick} thickColor="#3f9c2f" xMax={14} xTicks={[0, 2, 4, 6, 8, 10, 12, 14]} yDomain={[-4.65, 8.16]}
        yTicks={[0, 5]} speed="0.02" kind="tear" legendSub="x" legendValue="32.0" legendOffset={98} yLabelGap={20.7}
        fits={[dashed(p1Fit), { seg: p1FitEarly, dash: "1.2 1.8", color: "#555" }]}
        notes={[{ dx: 127, dy: 13.3, sub: "tear", value: "0.55" }, { dx: 33.6, dy: 51, sub: "", value: "1.41", small: true }]} />

      <Panel left={576.7} top={75.7} width={422} height={110} time={p2Time} thin={p2Thin} thinColors={p2Colors}
        thick={p2Thick} thickColor="#f09c32" xMax={14} xTicks={[0, 2, 4, 6, 8, 10, 12, 14]} yDomain={[-5.3, 9.9]}
        yTicks={[-5, 0, 5]} speed="0.02" kind="kink" legendSub="z" legendValue="5.9" legendOffset={91} yLabelGap={33.7}
        fits={[dashed(p2Fit)]} notes={[{ dx: 260, dy: 7.6, sub: "kink", value: "7.12" }]} />

      <Panel left={69.3} top={270.7} width={426.4} height={110.3} time={p3Time} thin={p3Thin} thinColors={p3Colors}
        thick={p3Thick} thickColor="#2d79b3" xMax={9} xTicks={[0, 1, 2, 3, 4, 5, 6, 7, 8, 9]} yDomain={[-5.5, 8.0]}
        yTicks={[-5, 0, 5]} speed="0.1" kind="tear" legendSub="x" legendValue="32.0" legendOffset={97.7} yLabelGap={31}
        fits={[dashed(p3Fit)]} notes={[{ dx: 84, dy: 14.3, sub: "tear", value: "2.06" }]} />

      <Panel left={574} top={271.7} width={429.3} height={109.3} time={p4Time} thin={p4Thin} thinColors={p4Colors}
        thick={p4Thick} thickColor="#fcb145" xMax={9} xTicks={[0, 1, 2, 3, 4, 5, 6, 7, 8, 9]} yDomain={[-5.75, 10.25]}
        yTicks={[-5, 0, 5, 10]} speed="0.1" kind="kink" legendSub="z" legendValue="4.6" legendOffset={91.3} yLabelGap={31}
        fits={[dashed(p4Fit)]} notes={[{ dx: 228.7, dy: 8.3, sub: "kink", value: "6.70" }]} />

      <Panel left={81.7} top={466} width={415} height={110} time={p5Time} thin={p5Thin} thinColors={p5Colors}
        thick={p5Thick} thickColor="#6a3d9a" xMax={5} xTicks={[0, 1, 2, 3, 4, 5]} yDomain={[-5.15, 7.0]}
        yTicks={[-5, 0, 5]} speed="0.6" kind="tear" legendSub="x" legendValue="32.0" legendOffset={99} yLabelGap={31.7}
        fits={[dashed(p5Fit)]} notes={[{ dx: 86.3, dy: 13.3, sub: "tear", value: "4.23" }]} />

      <Panel left={575.7} top={466} width={427} height={110} time={p6Time} thin={p6Thin} thinColors={p6Colors}
        thick={p6Thick} thickColor="#e8853a" xMax={5} xTicks={[0, 1, 2, 3, 4, 5]} yDomain={[-5.73, 10.73]}
        yTicks={[-5, 0, 5, 10]} speed="0.6" kind="kink" legendSub="z" legendValue="5.9" legendOffset={90.7} yLabelGap={32.7}
        fits={[dashed(p6Fit)]} notes={[{ dx: 92.6, dy: 8, sub: "kink", value: "13.43" }]} />
    </div>
  );
}
